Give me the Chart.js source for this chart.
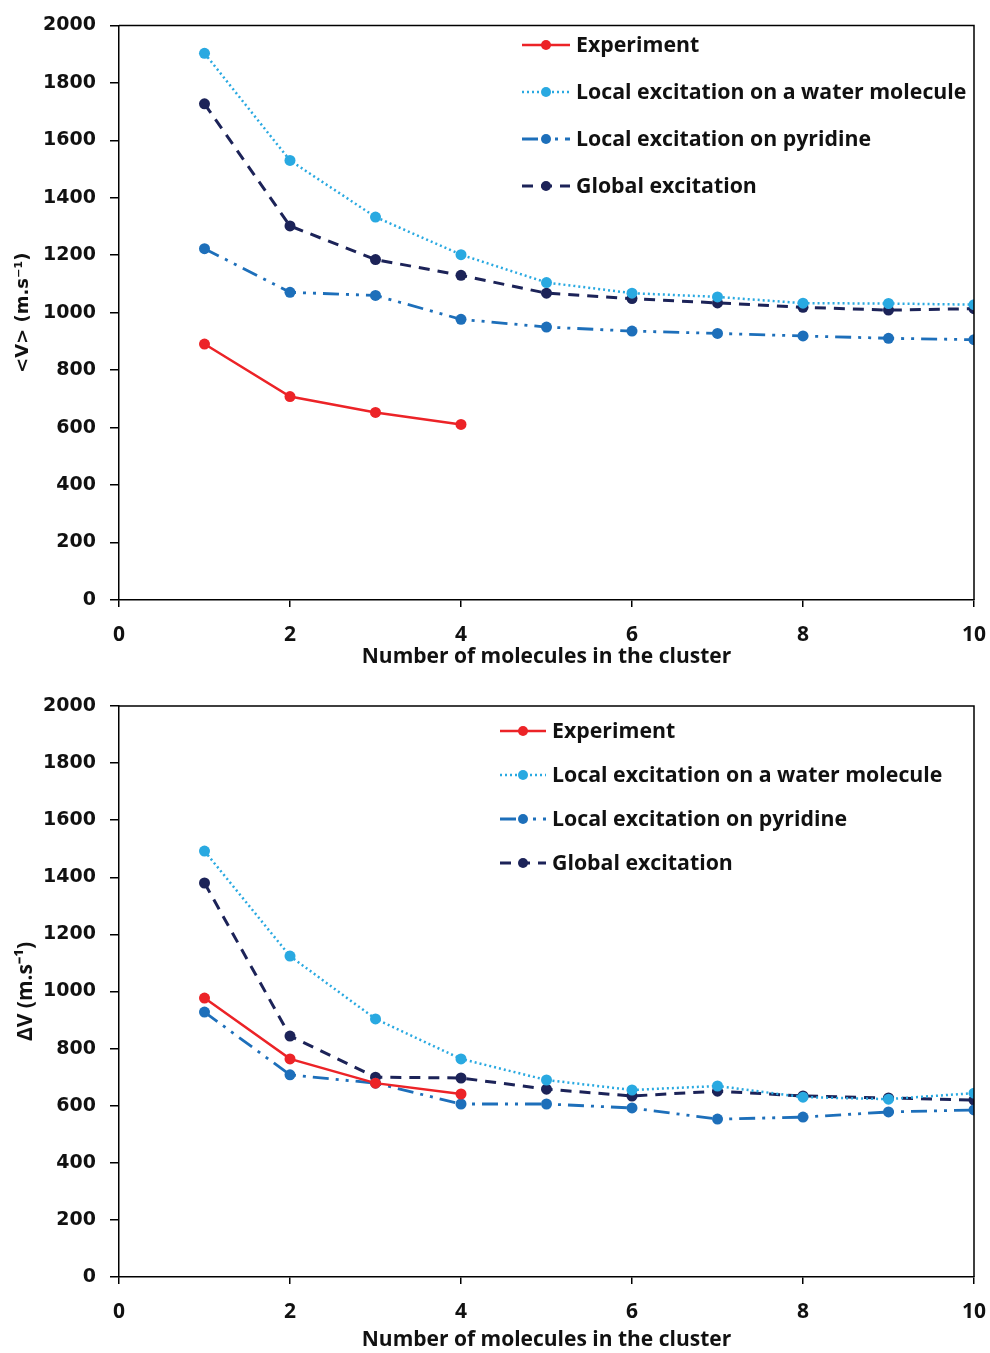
<!DOCTYPE html>
<html>
<head>
<meta charset="utf-8">
<script src="https://cdn.jsdelivr.net/npm/chart.js@4.4.1/dist/chart.umd.min.js"></script>
<style>
  body { margin: 0; background: #fff; width: 990px; height: 1353px; overflow: hidden; }
  .box { position: absolute; left: 0; width: 990px; }
  #topBox { top: 0; height: 680px; }
  #botBox { top: 680px; height: 673px; }
</style>
</head>
<body>
<div class="box" id="topBox"><canvas id="meanChart"></canvas></div>
<div class="box" id="botBox"><canvas id="spreadChart"></canvas></div>
<script>
// jumlah molekul di dalam cluster
const molecules = [1, 2, 3, 4, 5, 6, 7, 8, 9, 10];
const expMolecules = [1, 2, 3, 4];

// panel atas: <V>
const meanExperiment = [891, 708, 653, 611];
const meanWater = [1903, 1530, 1333, 1202, 1105, 1068, 1055, 1033, 1032, 1028];
const meanPyridine = [1223, 1071, 1060, 977, 950, 936, 928, 919, 911, 906];
const meanGlobal = [1727, 1302, 1185, 1130, 1068, 1049, 1034, 1019, 1009, 1014];

// panel bawah: ΔV
const spreadExperiment = [977, 764, 679, 641];
const spreadWater = [1492, 1124, 904, 764, 690, 655, 669, 630, 623, 644];
const spreadPyridine = [928, 708, 679, 606, 606, 592, 553, 560, 578, 585];
const spreadGlobal = [1380, 844, 700, 697, 658, 634, 651, 634, 627, 620];

const seriesNames = ["Experiment", "Local excitation on a water molecule", "Local excitation on pyridine", "Global excitation"];

const C = {
  red: "#ec2327",
  sky: "#29a9e1",
  blue: "#1d6fba",
  navy: "#1c2358",
};

const NARROW = "'Liberation Sans Narrow', 'Open Sans', sans-serif";
const WIDE = "'DejaVu Sans', Verdana, sans-serif";
const LEGEND_FONT = "'Open Sans', sans-serif";

function pts(xs, ys) {
  return ys.map((v, i) => ({ x: xs[i], y: v }));
}

function makeDatasets(exp, water, pyr, glob) {
  return [
    { label: seriesNames[0], data: pts(expMolecules, exp), borderColor: C.red, backgroundColor: C.red, borderWidth: 2.5, borderDash: [], pointRadius: 5.5 },
    { label: seriesNames[1], data: pts(molecules, water), borderColor: C.sky, backgroundColor: C.sky, borderWidth: 2.5, borderDash: [2, 3], pointRadius: 5.5 },
    { label: seriesNames[2], data: pts(molecules, pyr), borderColor: C.blue, backgroundColor: C.blue, borderWidth: 2.8, borderDash: [16, 7, 3, 7, 3, 7], pointRadius: 5.5 },
    { label: seriesNames[3], data: pts(molecules, glob), borderColor: C.navy, backgroundColor: C.navy, borderWidth: 3, borderDash: [11, 8], pointRadius: 5.5 },
  ].map((d) => Object.assign({ pointBorderWidth: 0, tension: 0, fill: false }, d));
}

// Kotak di sekeliling area plot (garis atas dan kanan)
const frame = {
  id: "frame",
  afterDraw(chart) {
    const { ctx, chartArea: a } = chart;
    ctx.save();
    ctx.strokeStyle = "#000";
    ctx.lineWidth = 1.5;
    ctx.beginPath();
    ctx.moveTo(a.left, a.top);
    ctx.lineTo(a.right, a.top);
    ctx.lineTo(a.right, a.bottom);
    ctx.stroke();
    ctx.restore();
  },
};

// Legenda di dalam area plot
const innerLegend = {
  id: "innerLegend",
  afterDatasetsDraw(chart, args, opts) {
    const ctx = chart.ctx;
    ctx.save();
    chart.data.datasets.forEach((ds, i) => {
      const y = opts.y + i * opts.gap;
      ctx.strokeStyle = ds.borderColor;
      ctx.lineWidth = ds.borderWidth;
      ctx.setLineDash(ds.borderDash || []);
      ctx.beginPath();
      ctx.moveTo(opts.x, y);
      ctx.lineTo(opts.x + opts.len, y);
      ctx.stroke();
      ctx.setLineDash([]);
      ctx.fillStyle = ds.backgroundColor;
      ctx.beginPath();
      ctx.arc(opts.x + opts.len / 2, y, 5, 0, Math.PI * 2);
      ctx.fill();
      ctx.fillStyle = "#111";
      ctx.font = "bold " + opts.size + "px " + LEGEND_FONT;
      ctx.textBaseline = "middle";
      ctx.fillText(ds.label, opts.x + opts.len + 6, y + 1);
    });
    ctx.restore();
  },
};

function buildChart(id, datasets, yTitle, yTitleFont, axisHeight, xTitlePad, legendOpts, topPad) {
  return new Chart(document.getElementById(id), {
    type: "line",
    data: { datasets },
    plugins: [frame, innerLegend],
    options: {
      responsive: true,
      maintainAspectRatio: false,
      animation: false,
      devicePixelRatio: 1,
      layout: { padding: { left: 0, right: 16, top: topPad, bottom: 0 } },
      plugins: {
        legend: { display: false },
        tooltip: { enabled: false },
        innerLegend: legendOpts,
      },
      scales: {
        x: {
          type: "linear",
          min: 0,
          max: 10,
          ticks: { stepSize: 2, color: "#111", padding: 15, font: { family: NARROW, size: 21, weight: "bold" } },
          grid: { drawOnChartArea: false, drawTicks: true, tickLength: 7, color: "#000", lineWidth: 1.5 },
          border: { color: "#000", width: 1.5 },
          title: { display: true, text: "Number of molecules in the cluster", color: "#111", font: { family: NARROW, size: 21, weight: "bold" }, padding: { top: 0, bottom: xTitlePad } },
          afterFit: (s) => {
            s.height = axisHeight;
            s.paddingLeft = 0;
            s.paddingRight = 0;
          },
        },
        y: {
          min: 0,
          max: 2000,
          ticks: { stepSize: 200, color: "#111", padding: 14, font: { family: WIDE, size: 19, weight: "bold" }, callback: (v) => String(v) },
          grid: { drawOnChartArea: false, drawTicks: true, tickLength: 9, color: "#000", lineWidth: 1.5 },
          border: { color: "#000", width: 1.5 },
          title: { display: true, text: yTitle, color: "#111", font: yTitleFont, padding: { top: 13, bottom: 0 } },
          afterFit: (s) => { s.width = 119; },
        },
      },
    },
  });
}

buildChart(
  "meanChart",
  makeDatasets(meanExperiment, meanWater, meanPyridine, meanGlobal),
  "<V> (m.s⁻¹)",
  { family: WIDE, size: 18, weight: "bold" },
  80, 10,
  { x: 522, y: 45, gap: 47, len: 48, size: 21.3 },
  21
);

buildChart(
  "spreadChart",
  makeDatasets(spreadExperiment, spreadWater, spreadPyridine, spreadGlobal),
  "ΔV (m.s⁻¹)",
  { family: NARROW, size: 21, weight: "bold" },
  76, 0,
  { x: 500, y: 51, gap: 44, len: 46, size: 21.3 },
  26
);
</script>
</body>
</html>
